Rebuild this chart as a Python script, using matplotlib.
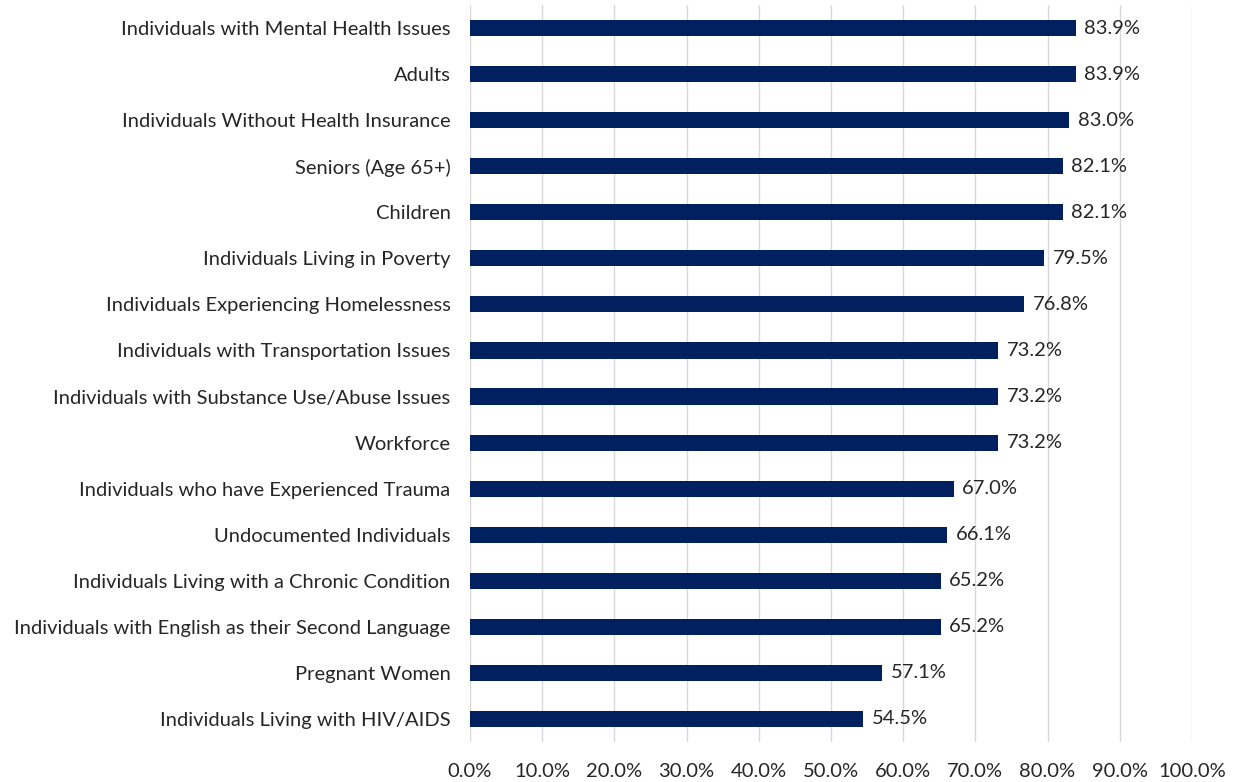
import matplotlib.pyplot as plt

categories = [
    'Individuals with Mental Health Issues',
    'Adults',
    'Individuals Without Health Insurance',
    'Seniors (Age 65+)',
    'Children',
    'Individuals Living in Poverty',
    'Individuals Experiencing Homelessness',
    'Individuals with Transportation Issues',
    'Individuals with Substance Use/Abuse Issues',
    'Workforce',
    'Individuals who have Experienced Trauma',
    'Undocumented Individuals',
    'Individuals Living with a Chronic Condition',
    'Individuals with English as their Second Language',
    'Pregnant Women',
    'Individuals Living with HIV/AIDS',
]
values = [83.9, 83.9, 83.0, 82.1, 82.1, 79.5, 76.8, 73.2, 73.2, 73.2,
          67.0, 66.1, 65.2, 65.2, 57.1, 54.5]
xticks = list(range(0, 101, 10))

plt.rcParams['font.family'] = ['Lato', 'DejaVu Sans']

fig = plt.figure(figsize=(12.35, 7.82), dpi=100)
ax = fig.add_axes([0.3806, 0.0512, 0.5845, 0.9424])

ypos = list(range(len(categories)))
ax.barh(ypos, values, height=0.35, color='#002060', zorder=3)
for y, v in zip(ypos, values):
    ax.text(v + 1.2, y, '%.1f%%' % v, va='center', ha='left', fontsize=14.5, color='#262626')

ax.set_yticks(ypos)
ax.set_yticklabels(categories, fontsize=14.5, color='#262626')
ax.set_ylim(len(categories) - 0.5, -0.5)
ax.set_xlim(0, 100)
ax.set_xticks(xticks)
ax.set_xticklabels(['%.1f%%' % t for t in xticks], fontsize=14.5, color='#262626')
ax.tick_params(axis='both', length=0)
ax.tick_params(axis='x', pad=15)
ax.tick_params(axis='y', pad=14)
ax.grid(axis='x', color='#d9d9d9', linewidth=1, zorder=0)
for s in ax.spines.values():
    s.set_visible(False)

plt.savefig('out.png')
